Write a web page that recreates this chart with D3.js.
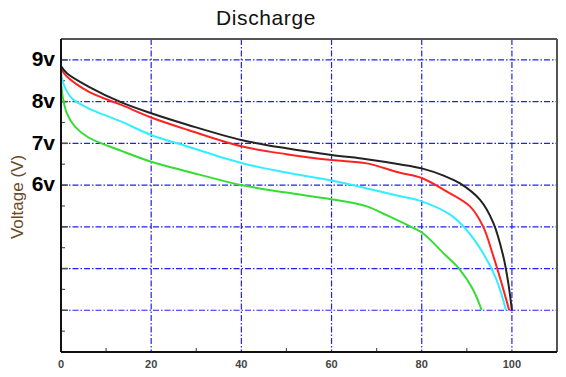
<!DOCTYPE html>
<html>
<head>
<meta charset="utf-8">
<script src="https://cdn.jsdelivr.net/npm/d3@7"></script>
<style>
  html, body { margin: 0; padding: 0; background: #fff; }
  svg { display: block; }
</style>
</head>
<body>
<div id="chart"></div>
<script>
// Discharge curves: capacity used (%) vs voltage (V)
const xTicks = [0, 20, 40, 60, 80, 100];
const xMinorTicks = [10, 30, 50, 70, 90];
const yGrid = [3, 4, 5, 6, 7, 8, 9];
const yLabels = [{ v: 9, t: '9v' }, { v: 8, t: '8v' }, { v: 7, t: '7v' }, { v: 6, t: '6v' }];
const yMinorTicks = [2.5, 3.5, 4.5, 5.5, 6.5, 7.5, 8.5];

const blackSeries = [
  [0, 8.85], [1.3, 8.68], [6.1, 8.36], [13.4, 7.98], [20, 7.72], [28.2, 7.44],
  [40, 7.08], [50, 6.88], [60, 6.72], [67.8, 6.62], [75, 6.5], [80, 6.4],
  [85, 6.22], [88.5, 6.04], [92.9, 5.65], [95.9, 5.09], [98.1, 4.29], [99.2, 3.65], [100, 3.0]
];
const redSeries = [
  [0, 8.78], [1.3, 8.6], [6.1, 8.24], [13.4, 7.92], [20, 7.62], [28.2, 7.32],
  [40, 6.93], [50, 6.74], [60, 6.6], [67.8, 6.52], [75, 6.3], [80, 6.17],
  [85.5, 5.85], [90.7, 5.49], [93.6, 5.01], [95.9, 4.29], [97.7, 3.65], [99.4, 3.0]
];
const cyanSeries = [
  [0, 8.72], [0.5, 8.44], [2.4, 8.08], [6.1, 7.84], [13.4, 7.52], [20, 7.2],
  [28.2, 6.92], [40, 6.53], [50, 6.3], [60, 6.11], [67.8, 5.92], [75, 5.74],
  [80, 5.61], [86.3, 5.29], [89.9, 4.93], [93.6, 4.37], [96.6, 3.73], [98.7, 3.0]
];
const greenSeries = [
  [0, 8.46], [0.4, 8.1], [1.3, 7.72], [3.1, 7.4], [6.1, 7.14], [13.4, 6.82],
  [20, 6.56], [28.2, 6.32], [40, 6.0], [50, 5.82], [60, 5.66], [67.8, 5.49],
  [72.2, 5.28], [78, 4.98], [80.2, 4.85], [84.8, 4.37], [88.5, 3.97], [91.4, 3.49], [93.3, 3.0]
];

const series = [
  { data: greenSeries, color: '#33dd33' },
  { data: cyanSeries, color: '#33eeff' },
  { data: redSeries, color: '#ff2222' },
  { data: blackSeries, color: '#222222' }
];

const width = 566;
const height = 377;
const margin = { top: 39, right: 9, bottom: 25, left: 61 };
const innerWidth = width - margin.left - margin.right;
const innerHeight = height - margin.top - margin.bottom;

const svg = d3.select('#chart').append('svg')
  .attr('width', width)
  .attr('height', height);

const x = d3.scaleLinear().domain([0, 110]).range([0, innerWidth]);
const y = d3.scaleLinear().domain([2, 9.5]).range([innerHeight, 0]);

const g = svg.append('g')
  .attr('transform', `translate(${margin.left},${margin.top})`);

// Title
svg.append('text')
  .attr('x', 266)
  .attr('y', 25)
  .attr('text-anchor', 'middle')
  .attr('font-family', 'Arial, Liberation Sans, sans-serif')
  .attr('font-size', '21px')
  .attr('letter-spacing', '0.6px')
  .attr('fill', '#111')
  .text('Discharge');

// Y axis label
svg.append('text')
  .attr('transform', 'translate(23,197) rotate(-90)')
  .attr('text-anchor', 'middle')
  .attr('font-family', 'Arial, Liberation Sans, sans-serif')
  .attr('font-size', '17px')
  .attr('fill', '#6b4a2a')
  .text('Voltage (V)');

// Grid lines (blue dash-dot)
g.append('g').selectAll('line.hgrid')
  .data(yGrid)
  .enter()
  .append('line')
  .attr('class', 'hgrid')
  .attr('x1', 0)
  .attr('x2', innerWidth)
  .attr('y1', d => y(d))
  .attr('y2', d => y(d))
  .attr('stroke', '#2020ff')
  .attr('stroke-width', 1.2)
  .attr('stroke-dasharray', '6,2,1.5,2');

g.append('g').selectAll('line.vgrid')
  .data(xTicks.filter(d => d > 0))
  .enter()
  .append('line')
  .attr('class', 'vgrid')
  .attr('x1', d => x(d))
  .attr('x2', d => x(d))
  .attr('y1', 0)
  .attr('y2', innerHeight)
  .attr('stroke', '#2020ff')
  .attr('stroke-width', 1.2)
  .attr('stroke-dasharray', '6,2,1.5,2');

// Inner tick marks
g.append('g').selectAll('line')
  .data(yGrid)
  .enter()
  .append('line')
  .attr('x1', 0)
  .attr('x2', 7)
  .attr('y1', d => y(d))
  .attr('y2', d => y(d))
  .attr('stroke', '#555')
  .attr('stroke-width', 1.5);

g.append('g').selectAll('line')
  .data(yMinorTicks)
  .enter()
  .append('line')
  .attr('x1', 0)
  .attr('x2', 4)
  .attr('y1', d => y(d))
  .attr('y2', d => y(d))
  .attr('stroke', '#555')
  .attr('stroke-width', 1.2);

g.append('g').selectAll('line')
  .data(xMinorTicks)
  .enter()
  .append('line')
  .attr('x1', d => x(d))
  .attr('x2', d => x(d))
  .attr('y1', innerHeight)
  .attr('y2', innerHeight - 4)
  .attr('stroke', '#555')
  .attr('stroke-width', 1.2);

// Curves
const line = d3.line()
  .x(d => x(d[0]))
  .y(d => y(d[1]))
  .curve(d3.curveCatmullRom.alpha(0.5));

g.selectAll('path.curve')
  .data(series)
  .enter()
  .append('path')
  .attr('class', 'curve')
  .attr('d', d => line(d.data))
  .attr('fill', 'none')
  .attr('stroke', d => d.color)
  .attr('stroke-width', 2)
  .attr('stroke-linejoin', 'round');

// Frame: top/right grey, left/bottom black
g.append('line')
  .attr('x1', 0).attr('x2', innerWidth)
  .attr('y1', 0).attr('y2', 0)
  .attr('stroke', '#555').attr('stroke-width', 2);
g.append('line')
  .attr('x1', innerWidth).attr('x2', innerWidth)
  .attr('y1', 0).attr('y2', innerHeight)
  .attr('stroke', '#555').attr('stroke-width', 2);
g.append('line')
  .attr('x1', 0).attr('x2', 0)
  .attr('y1', 0).attr('y2', innerHeight)
  .attr('stroke', '#111').attr('stroke-width', 2);
g.append('line')
  .attr('x1', 0).attr('x2', innerWidth)
  .attr('y1', innerHeight).attr('y2', innerHeight)
  .attr('stroke', '#111').attr('stroke-width', 2);

// X tick labels
g.append('g').selectAll('text')
  .data(xTicks)
  .enter()
  .append('text')
  .attr('x', d => x(d))
  .attr('y', innerHeight + 16)
  .attr('text-anchor', 'middle')
  .attr('font-family', 'Arial, Liberation Sans, sans-serif')
  .attr('font-size', '11px')
  .attr('font-weight', 'bold')
  .attr('fill', '#444')
  .text(d => d);

// Y tick labels
g.append('g').selectAll('text')
  .data(yLabels)
  .enter()
  .append('text')
  .attr('x', -6)
  .attr('y', d => y(d.v))
  .attr('dy', '0.3em')
  .attr('text-anchor', 'end')
  .attr('font-family', 'Arial, Liberation Sans, sans-serif')
  .attr('font-size', '21px')
  .attr('font-weight', 'bold')
  .attr('fill', '#000')
  .text(d => d.t);
</script>
</body>
</html>
